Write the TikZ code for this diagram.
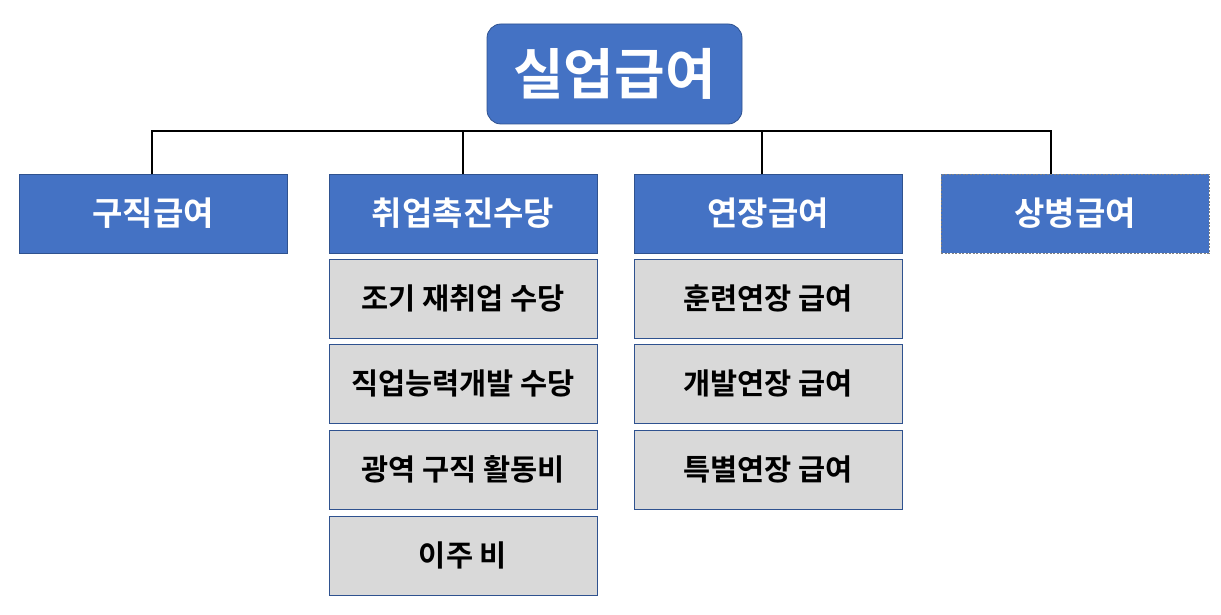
\documentclass[tikz,border=0pt]{standalone}
\usepackage{fontspec}
\setmainfont{Noto Sans CJK KR Bold}
\begin{document}
\begin{tikzpicture}[x=1pt,y=-1pt,
  topbox/.style={draw=blueborder, fill=bluefill, rounded corners=14pt, line width=0.8pt,
    minimum width=255pt, minimum height=100pt, text=white, font=\fontsize{55}{60}\selectfont, inner sep=0pt},
  catbox/.style={draw=blueborder, fill=bluefill, line width=0.8pt,
    minimum width=268pt, minimum height=79pt, text=white, font=\fontsize{33}{38}\selectfont, inner sep=0pt},
  dashbox/.style={catbox, draw=gray, dash pattern=on 2pt off 1.5pt},
  subbox/.style={draw=blueborder, fill=grayfill, line width=0.8pt,
    minimum width=268pt, minimum height=79pt, text=black, font=\fontsize{29.5}{34}\selectfont, inner sep=0pt},
  conn/.style={line width=2.6pt, black}
]
\definecolor{bluefill}{HTML}{4472C4}
\definecolor{blueborder}{HTML}{2F528F}
\definecolor{grayfill}{HTML}{D9D9D9}
\useasboundingbox (0,0) rectangle (1221,615);
\node[topbox] (top) at (614.5,74) {\raisebox{2pt}{실업급여}};
\node[catbox] (c1) at (153,213.5) {\raisebox{3pt}{구직급여}};
\node[catbox] (c2) at (463,213.5) {\raisebox{3pt}{취업촉진수당}};
\node[catbox] (c3) at (768,213.5) {\raisebox{3pt}{연장급여}};
\node[dashbox] (c4) at (1075,213.5) {\raisebox{3pt}{상병급여}};
\node[subbox] (s1) at (463,298.5) {\raisebox{2pt}{조기 재취업 수당}};
\node[subbox] (s2) at (463,383.5) {\raisebox{2pt}{직업능력개발 수당}};
\node[subbox] (s3) at (463,469.5) {\raisebox{2pt}{광역 구직 활동비}};
\node[subbox] (s4) at (463,555.5) {\raisebox{2pt}{이주 비}};
\node[subbox] (t1) at (768,298.5) {\raisebox{2pt}{훈련연장 급여}};
\node[subbox] (t2) at (768,383.5) {\raisebox{2pt}{개발연장 급여}};
\node[subbox] (t3) at (768,469.5) {\raisebox{2pt}{특별연장 급여}};
\coordinate (bar) at (0,131);
\coordinate (p1) at (152,174);
\coordinate (p4) at (1051,174);
\draw[conn] (p1) -- (p1 |- bar) -- (p4 |- bar) -- (p4);
\draw[conn] (c2.north) -- (c2.north |- bar);
\draw[conn] ([xshift=-6pt]c3.north) -- ([xshift=-6pt]c3.north |- bar);
\end{tikzpicture}
\end{document}
